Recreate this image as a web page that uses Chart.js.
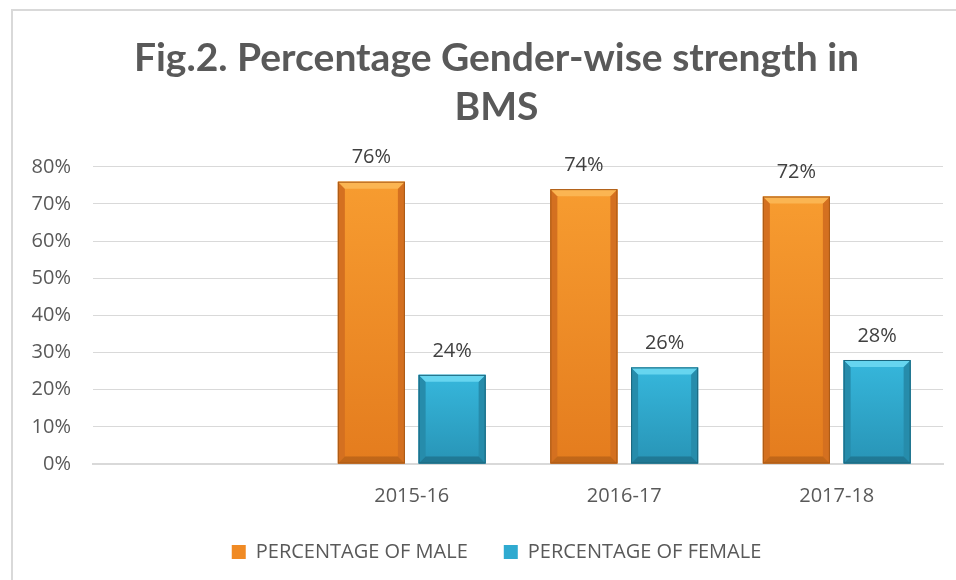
<!DOCTYPE html>
<html>
<head>
<meta charset="utf-8">
<script src="https://cdn.jsdelivr.net/npm/chart.js@4.4.0/dist/chart.umd.min.js"></script>
<style>
  html, body { margin: 0; padding: 0; background: #fff; }
  #wrap { position: relative; width: 956px; height: 580px; }
  #frame { position: absolute; left: 11px; top: 9px; right: 0; bottom: 0;
           border-left: 2px solid #d9d9d9; border-top: 2px solid #d9d9d9; pointer-events: none; }
  canvas { position: absolute; left: 0; top: 0; }
</style>
</head>
<body>
<div id="wrap"><canvas id="chart" width="956" height="580"></canvas><div id="frame"></div></div>
<script>
// data (first category is empty in the original)
const categories = ['', '2015-16', '2016-17', '2017-18'];
const maleValues = [null, 76, 74, 72];
const femaleValues = [null, 24, 26, 28];
const seriesNames = ['PERCENTAGE OF MALE', 'PERCENTAGE OF FEMALE'];
const yMax = 80;
const yStep = 10;

const palettes = [
  {base: '#F08A24', light: '#FBB552', top: '#F79C30', bottom: '#E47C1E', side: '#D47020', dark: '#A95916'},
  {base: '#2FAAD0', light: '#66D5EF', top: '#36B7DC', bottom: '#2894B6', side: '#268CAB', dark: '#1B667D'}
];

const textFont = "'Open Sans', sans-serif";
const textColor = '#595959';

// bevelled bars + value labels
const bevelPlugin = {
  id: 'bevel',
  afterDatasetsDraw(chart) {
    const ctx = chart.ctx;
    chart.data.datasets.forEach((ds, di) => {
      const meta = chart.getDatasetMeta(di);
      const pal = palettes[di];
      meta.data.forEach((bar, i) => {
        if (ds.data[i] == null) return;
        const p = bar.getProps(['x', 'y', 'base', 'width'], true);
        const l = p.x - p.width / 2, r = p.x + p.width / 2, t = p.y, b = p.base;
        const e = 7;
        ctx.save();
        let g = ctx.createLinearGradient(0, t, 0, b);
        g.addColorStop(0, pal.top);
        g.addColorStop(1, pal.bottom);
        ctx.fillStyle = g;
        ctx.fillRect(l, t, r - l, b - t);
        ctx.fillStyle = pal.side;
        ctx.beginPath();
        ctx.moveTo(l, t); ctx.lineTo(l + e, t + e); ctx.lineTo(l + e, b - e); ctx.lineTo(l, b); ctx.closePath();
        ctx.fill();
        ctx.beginPath();
        ctx.moveTo(r, t); ctx.lineTo(r - e, t + e); ctx.lineTo(r - e, b - e); ctx.lineTo(r, b); ctx.closePath();
        ctx.fill();
        ctx.fillStyle = pal.light;
        ctx.beginPath();
        ctx.moveTo(l, t); ctx.lineTo(r, t); ctx.lineTo(r - e, t + e); ctx.lineTo(l + e, t + e); ctx.closePath();
        ctx.fill();
        ctx.fillStyle = pal.dark;
        ctx.globalAlpha = 0.6;
        ctx.beginPath();
        ctx.moveTo(l, b); ctx.lineTo(r, b); ctx.lineTo(r - e, b - e); ctx.lineTo(l + e, b - e); ctx.closePath();
        ctx.fill();
        ctx.globalAlpha = 1;
        ctx.strokeStyle = pal.dark;
        ctx.lineWidth = 1;
        ctx.strokeRect(l + 0.5, t + 0.5, r - l - 1, b - t - 1);
        ctx.fillStyle = '#404040';
        ctx.font = "20px " + textFont;
        ctx.textAlign = 'center';
        ctx.textBaseline = 'middle';
        ctx.fillText(ds.data[i] + '%', p.x, t - 24);
        ctx.restore();
      });
    });
  }
};

// y tick labels drawn outside the (narrow) axis box so they are not clipped
const yLabelPlugin = {
  id: 'yLabels',
  afterDraw(chart) {
    const scale = chart.scales.y;
    const ctx = chart.ctx;
    ctx.save();
    ctx.fillStyle = textColor;
    ctx.font = "20px " + textFont;
    ctx.textAlign = 'right';
    ctx.textBaseline = 'middle';
    scale.ticks.forEach(tk => {
      ctx.fillText(tk.value + '%', scale.right - 22, scale.getPixelForValue(tk.value));
    });
    ctx.restore();
  }
};

new Chart(document.getElementById('chart'), {
  type: 'bar',
  data: {
    labels: categories,
    datasets: [
      {label: seriesNames[0], data: maleValues, backgroundColor: palettes[0].base, borderWidth: 0},
      {label: seriesNames[1], data: femaleValues, backgroundColor: palettes[1].base, borderWidth: 0}
    ]
  },
  options: {
    responsive: false,
    animation: false,
    devicePixelRatio: 1,
    categoryPercentage: 0.76,
    barPercentage: 0.83,
    layout: {padding: {left: 50, right: 13, top: 0, bottom: 8}},
    plugins: {
      title: {
        display: true,
        text: ['Fig.2. Percentage Gender-wise strength in', 'BMS'],
        color: textColor,
        font: {family: "Lato, sans-serif", size: 39, weight: 'bold', lineHeight: 1.28},
        padding: {top: 33, bottom: 34}
      },
      legend: {
        position: 'bottom',
        maxHeight: 75,
        labels: {
          color: textColor,
          font: {family: textFont, size: 20},
          boxWidth: 14,
          boxHeight: 14,
          padding: 36
        }
      },
      tooltip: {enabled: false}
    },
    scales: {
      x: {
        afterFit(scale) { scale.height = 42; },
        grid: {display: false, drawTicks: false},
        border: {color: '#d9d9d9', width: 2},
        ticks: {color: textColor, font: {family: textFont, size: 20}, padding: 20}
      },
      y: {
        min: 0,
        max: yMax,
        afterFit(scale) { scale.width = 43; },
        border: {display: false},
        grid: {color: '#d9d9d9', lineWidth: 1, drawTicks: false},
        ticks: {stepSize: yStep, display: false}
      }
    }
  },
  plugins: [bevelPlugin, yLabelPlugin]
});
</script>
</body>
</html>
